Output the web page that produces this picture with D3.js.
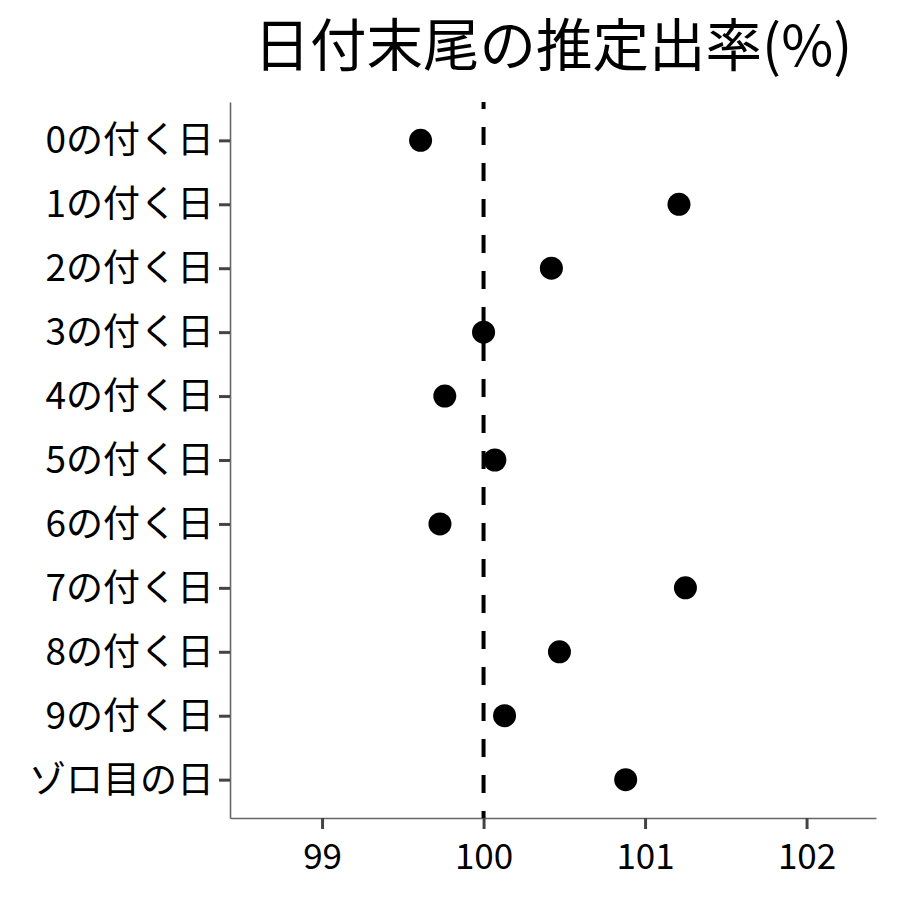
<!DOCTYPE html>
<html>
<head>
<meta charset="utf-8">
<script src="https://cdn.jsdelivr.net/npm/d3@7"></script>
<style>
  body { margin: 0; background: #fff; }
  text { font-family: "Noto Sans CJK JP", "Noto Sans", sans-serif; }
</style>
</head>
<body>
<div id="chart"></div>
<script>
var categories = ['0の付く日', '1の付く日', '2の付く日', '3の付く日', '4の付く日',
  '5の付く日', '6の付く日', '7の付く日', '8の付く日', '9の付く日', 'ゾロ目の日'];
var values = [99.61, 101.21, 100.42, 100.0, 99.76, 100.07, 99.73, 101.25, 100.47, 100.13, 100.88];
var xTicks = [99, 100, 101, 102];
var refValue = 100;
var title = '日付末尾の推定出率(%)';

var width = 900, height = 900;
var margin = {top: 102, right: 24, bottom: 82, left: 230};

var svg = d3.select('#chart').append('svg')
  .attr('width', width)
  .attr('height', height);

var x = d3.scaleLinear()
  .domain([98.43, 102.43])
  .range([margin.left, width - margin.right]);

var y = d3.scalePoint()
  .domain(categories)
  .range([margin.top, height - margin.bottom])
  .padding(0.6);

// title
svg.append('text')
  .attr('x', (margin.left + width - margin.right) / 2)
  .attr('y', 66)
  .attr('text-anchor', 'middle')
  .attr('font-size', '56.5px')
  .attr('fill', '#000')
  .text(title);

// axes
var xAxis = svg.append('g')
  .attr('transform', 'translate(0,' + (height - margin.bottom) + ')')
  .call(d3.axisBottom(x).tickValues(xTicks).tickSize(11).tickSizeOuter(0)
    .tickPadding(7).tickFormat(d3.format('d')));

var yAxis = svg.append('g')
  .attr('transform', 'translate(' + margin.left + ',0)')
  .call(d3.axisLeft(y).tickSize(11).tickSizeOuter(0).tickPadding(5));

[xAxis, yAxis].forEach(function(g) {
  g.select('.domain').attr('stroke', '#666').attr('stroke-width', 1.6);
  g.selectAll('.tick line').attr('stroke', '#444').attr('stroke-width', 3);
  g.selectAll('.tick text')
    .attr('fill', '#000')
    .style('font-family', '"Noto Sans CJK JP", sans-serif');
});
xAxis.selectAll('.tick text').attr('font-size', '35px').attr('dy', '0.93em');
yAxis.selectAll('.tick text').attr('font-size', '37px').attr('dy', '0.34em');

// reference line
svg.append('line')
  .attr('x1', x(refValue)).attr('x2', x(refValue))
  .attr('y1', margin.top).attr('y2', height - margin.bottom)
  .attr('stroke', '#000')
  .attr('stroke-width', 4)
  .attr('stroke-dasharray', '18,18')
  .attr('stroke-dashoffset', 11);

// points
svg.append('g').selectAll('circle')
  .data(categories)
  .join('circle')
  .attr('cx', function(d, i) { return x(values[i]); })
  .attr('cy', function(d) { return y(d); })
  .attr('r', 11.5)
  .attr('fill', '#000');
</script>
</body>
</html>
